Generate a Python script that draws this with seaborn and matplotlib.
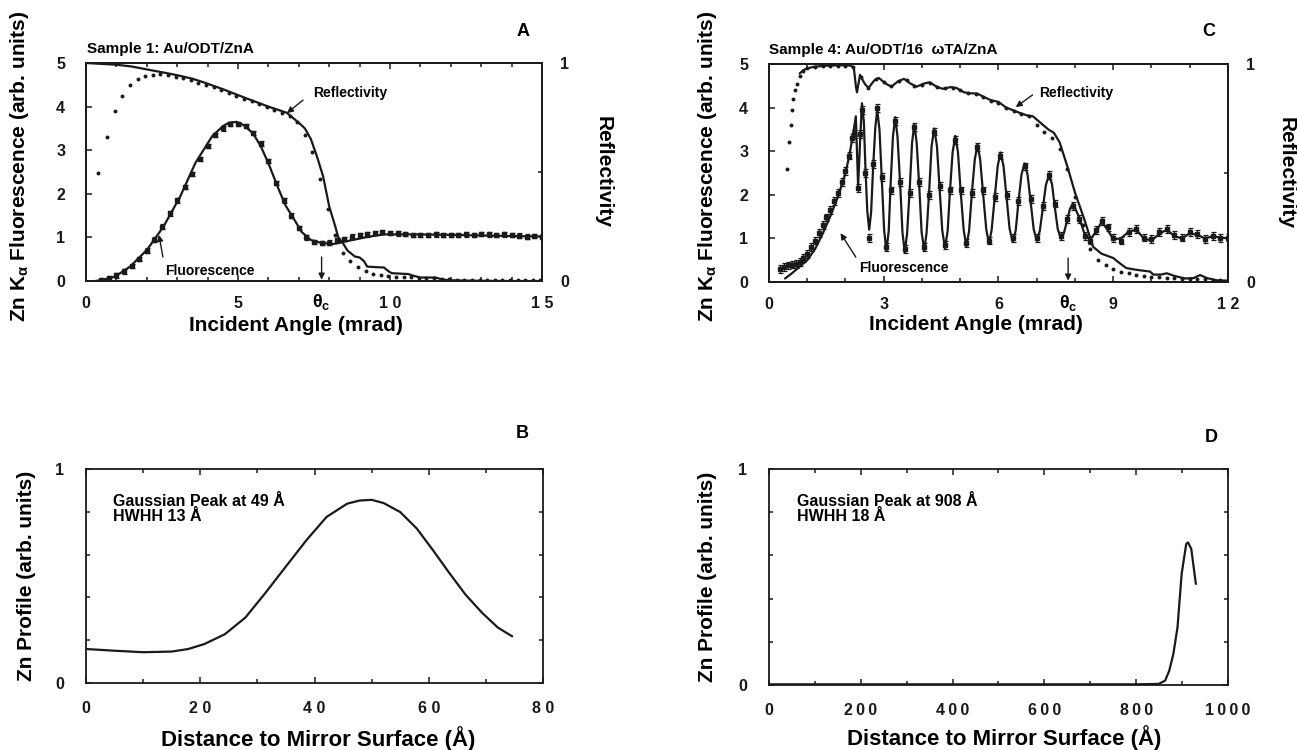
import matplotlib
matplotlib.use("Agg")
import matplotlib.pyplot as plt
from matplotlib.transforms import blended_transform_factory
import seaborn as sns

# ---------------- data ----------------

# Panel A  (sample 1), angle in mrad
a_refl_fit_x = [0, 0.5, 1.0, 1.5, 2.1, 2.6, 3.0, 3.5, 3.9, 4.5, 5.2, 6.0, 6.6, 7.0, 7.2, 7.4, 7.6, 7.8,
                8.0, 8.2, 8.3, 8.45, 8.6, 8.85, 9.0, 9.15, 9.25, 9.5, 9.8, 9.95, 10.05, 10.6, 10.75,
                11.0, 11.5, 11.7, 11.9, 12.5, 13.0, 14.0, 15.0]
a_refl_fit_y = [1.0, 0.996, 0.992, 0.984, 0.968, 0.955, 0.944, 0.928, 0.91, 0.88, 0.842, 0.8, 0.772,
                0.726, 0.70, 0.65, 0.57, 0.48, 0.342, 0.25, 0.2, 0.174, 0.14, 0.112, 0.108, 0.09,
                0.066, 0.064, 0.062, 0.045, 0.036, 0.032, 0.025, 0.016, 0.016, 0.008, 0.004, 0.002,
                0.001, 0.0, 0.0]

a_refl_dat_x = [0.4, 0.7, 0.95, 1.2, 1.45, 1.7, 1.95, 2.2, 2.45, 2.7, 2.95, 3.2, 3.45, 3.7, 3.95,
                4.2, 4.45, 4.7, 4.95, 5.2, 5.45, 5.7, 5.95, 6.2, 6.45, 6.7, 6.95, 7.2, 7.45, 7.7,
                7.95, 8.2, 8.45, 8.7, 8.95, 9.2, 9.45, 9.7, 9.95, 10.2, 10.45, 10.7, 10.95, 11.2,
                11.45, 11.7, 11.95, 12.2, 12.45, 12.7, 12.95, 13.2, 13.45, 13.7, 13.95, 14.2,
                14.45, 14.7, 14.95]
a_refl_dat_y = [0.494, 0.66, 0.778, 0.85, 0.898, 0.926, 0.94, 0.946, 0.948, 0.944, 0.938, 0.93,
                0.92, 0.91, 0.90, 0.888, 0.876, 0.862, 0.85, 0.836, 0.824, 0.812, 0.796, 0.784,
                0.77, 0.756, 0.73, 0.67, 0.59, 0.47, 0.33, 0.21, 0.13, 0.09, 0.066, 0.044, 0.032,
                0.026, 0.022, 0.02, 0.019, 0.018, 0.016, 0.014, 0.012, 0.010, 0.008, 0.006, 0.005,
                0.005, 0.004, 0.004, 0.004, 0.003, 0.003, 0.003, 0.003, 0.003, 0.003]

a_fluo_fit_x = [0.3, 0.5, 0.95, 1.45, 2.0, 2.55, 3.1, 3.6, 4.15, 4.5, 4.7, 4.95, 5.2, 5.5, 5.75,
                6.0, 6.3, 6.55, 6.85, 7.1, 7.4, 7.75, 8.15, 8.55, 8.9, 9.25, 9.8, 10.6, 11.9,
                13.3, 15.0]
a_fluo_fit_y = [0.0, 0.02, 0.1, 0.33, 0.71, 1.25, 1.94, 2.71, 3.32, 3.55, 3.63, 3.65, 3.57, 3.38,
                3.09, 2.7, 2.17, 1.75, 1.41, 1.12, 0.94, 0.87, 0.85, 0.91, 0.96, 1.01, 1.07, 1.07,
                1.06, 1.04, 1.02]

a_fluo_dat_x = [0.5, 0.75, 1.0, 1.25, 1.5, 1.75, 2.0, 2.25, 2.5, 2.75, 3.0, 3.25, 3.5, 3.75, 4.0,
                4.25, 4.5, 4.75, 5.0, 5.25, 5.5, 5.75, 6.0, 6.25, 6.5, 6.75, 7.0, 7.25, 7.5, 7.75,
                8.0, 8.25, 8.5, 8.75, 9.0, 9.25, 9.5, 9.75, 10.0, 10.25, 10.5, 10.75, 11.0, 11.25,
                11.5, 11.75, 12.0, 12.25, 12.5, 12.75, 13.0, 13.25, 13.5, 13.75, 14.0, 14.25,
                14.5, 14.75, 15.0]
a_fluo_dat_y = [0.03, 0.07, 0.13, 0.22, 0.35, 0.5, 0.7, 0.95, 1.25, 1.55, 1.85, 2.15, 2.45, 2.8,
                3.1, 3.35, 3.5, 3.6, 3.6, 3.55, 3.4, 3.15, 2.75, 2.25, 1.85, 1.5, 1.22, 1.0, 0.9,
                0.87, 0.88, 0.93, 0.97, 1.02, 1.05, 1.07, 1.1, 1.12, 1.1, 1.09, 1.08, 1.06, 1.05,
                1.06, 1.07, 1.06, 1.05, 1.06, 1.07, 1.06, 1.08, 1.07, 1.05, 1.07, 1.06, 1.04,
                1.02, 1.03, 1.02]

# Panel C  (sample 4)
c_refl_fit_x = [0.8, 0.9, 1.0, 1.2, 1.5, 1.8, 2.0, 2.15, 2.22, 2.27, 2.3, 2.38, 2.5, 2.6, 2.75,
                2.87, 3.05, 3.2, 3.37, 3.53, 3.7, 3.86, 4.05, 4.2, 4.4, 4.55, 4.75, 4.9, 5.1, 5.25,
                5.45, 5.6, 5.8, 6.0, 6.2, 6.35, 6.55, 6.75, 6.9, 7.1, 7.3, 7.45, 7.6, 7.8, 8.0,
                8.25, 8.47, 8.69, 9.0, 9.17, 9.34, 9.6, 9.96, 10.05, 10.25, 10.4, 10.6, 10.88,
                11.1, 11.27, 11.45, 11.7, 12.0]
c_refl_fit_y = [0.956, 0.972, 0.98, 0.988, 0.992, 0.994, 0.994, 0.992, 0.98, 0.9, 0.87, 0.95,
                0.91, 0.89, 0.924, 0.936, 0.91, 0.896, 0.92, 0.932, 0.91, 0.896, 0.91, 0.916,
                0.894, 0.886, 0.894, 0.89, 0.87, 0.866, 0.864, 0.85, 0.834, 0.826, 0.8, 0.79,
                0.776, 0.764, 0.76, 0.73, 0.70, 0.684, 0.64, 0.53, 0.41, 0.284, 0.162, 0.13,
                0.11, 0.086, 0.064, 0.056, 0.048, 0.034, 0.034, 0.04, 0.028, 0.016, 0.018,
                0.032, 0.018, 0.008, 0.006]

c_refl_dat_x = [0.48, 0.53, 0.57, 0.6, 0.64, 0.68, 0.73, 0.8, 0.9, 1.0, 1.2, 1.4, 1.6, 1.8, 2.0,
                2.2, 2.4, 2.6, 2.8, 3.0, 3.2, 3.4, 3.6, 3.8, 4.0, 4.2, 4.4, 4.6, 4.8, 5.0, 5.2,
                5.4, 5.6, 5.8, 6.0, 6.2, 6.4, 6.6, 6.8, 7.0, 7.2, 7.4, 7.6, 7.8, 8.0, 8.2, 8.4,
                8.6, 8.8, 9.0, 9.2, 9.4, 9.6, 9.8, 10.0, 10.2, 10.4, 10.6, 10.8, 11.0, 11.2, 11.4,
                11.6, 11.8, 12.0]
c_refl_dat_y = [0.52, 0.64, 0.72, 0.79, 0.84, 0.88, 0.91, 0.944, 0.97, 0.98, 0.986, 0.99, 0.992,
                0.992, 0.992, 0.986, 0.94, 0.89, 0.93, 0.916, 0.90, 0.924, 0.926, 0.90, 0.904,
                0.912, 0.894, 0.888, 0.892, 0.88, 0.866, 0.862, 0.848, 0.832, 0.82, 0.80, 0.786,
                0.772, 0.76, 0.72, 0.69, 0.66, 0.61, 0.52, 0.39, 0.26, 0.15, 0.1, 0.076, 0.06,
                0.048, 0.04, 0.034, 0.028, 0.024, 0.022, 0.02, 0.018, 0.016, 0.014, 0.012, 0.012,
                0.01, 0.01, 0.01]

c_fluo_fit_x = [0.42, 0.6, 0.8, 1.0, 1.2, 1.4, 1.6, 1.8, 2.0, 2.1, 2.2, 2.27, 2.33, 2.38, 2.43,
                2.48, 2.52, 2.57, 2.62, 2.67, 2.72, 2.78, 2.83,
                2.89, 2.95, 3.01, 3.07, 3.13, 3.18, 3.24, 3.3,
                3.36, 3.43, 3.49, 3.55, 3.61, 3.68, 3.74, 3.8,
                3.86, 3.93, 3.99, 4.06, 4.12, 4.19, 4.25, 4.32,
                4.39, 4.46, 4.53, 4.6, 4.67, 4.73, 4.8, 4.87,
                4.94, 5.01, 5.09, 5.16, 5.23, 5.3, 5.38, 5.45,
                5.52, 5.6, 5.68, 5.75, 5.82, 5.9, 5.98, 6.05,
                6.13, 6.21, 6.29, 6.37, 6.45, 6.52, 6.6, 6.68,
                6.76, 6.84, 6.92, 7.0, 7.08, 7.16, 7.24, 7.32,
                7.4, 7.47, 7.55, 7.63, 7.71, 7.79, 7.87, 7.95,
                8.1, 8.25, 8.4, 8.55, 8.7, 8.85, 9.0, 9.2, 9.4, 9.6, 9.8, 10.0, 10.2, 10.4, 10.6,
                10.8, 11.0, 11.2, 11.4, 11.6, 11.8, 12.0]
c_fluo_fit_y = [0.08, 0.2, 0.35, 0.5, 0.75, 1.1, 1.5, 1.95, 2.5, 2.9, 3.4, 3.8, 2.2, 3.2, 4.1,
                3.68, 2.65, 1.62, 1.2, 1.6, 2.58, 3.55, 3.95,
                3.48, 2.34, 1.19, 0.72, 1.17, 2.25, 3.33, 3.78,
                3.33, 2.23, 1.13, 0.68, 1.11, 2.15, 3.19, 3.62,
                3.2, 2.17, 1.14, 0.72, 1.13, 2.12, 3.11, 3.52,
                3.12, 2.15, 1.18, 0.78, 1.16, 2.07, 2.97, 3.35,
                2.98, 2.09, 1.19, 0.82, 1.16, 1.99, 2.81, 3.15,
                2.82, 2.0, 1.21, 0.88, 1.19, 1.93, 2.66, 2.97,
                2.67, 1.95, 1.22, 0.92, 1.18, 1.82, 2.46, 2.72,
                2.46, 1.84, 1.21, 0.95, 1.17, 1.7, 2.23, 2.45,
                2.24, 1.73, 1.21, 1.0, 1.12, 1.4, 1.68, 1.8,
                1.5, 1.1, 0.98, 1.15, 1.38, 1.2, 0.98, 1.0, 1.15, 1.2, 1.0, 0.95, 1.1, 1.2, 1.05,
                1.0, 1.12, 1.08, 1.0, 1.05, 1.02, 1.0]

c_fluo_dat_x = [0.3, 0.4, 0.5, 0.6, 0.7, 0.8, 0.9, 1.0, 1.1, 1.2, 1.3, 1.4, 1.5, 1.6, 1.7, 1.8,
                1.9, 2.0, 2.1, 2.17, 2.23,
                2.33, 2.38, 2.43, 2.52, 2.62, 2.72, 2.83, 2.95, 3.07, 3.18, 3.3, 3.43, 3.55, 3.68,
                3.8, 3.93, 4.06, 4.19, 4.32, 4.46, 4.6, 4.73, 4.87, 5.01, 5.16, 5.3, 5.45, 5.6,
                5.75, 5.9, 6.05, 6.21, 6.37, 6.52, 6.68, 6.84, 7.0, 7.16, 7.32, 7.47, 7.63, 7.79,
                7.95, 8.1, 8.25, 8.4, 8.55, 8.7, 8.85, 9.0, 9.2, 9.4, 9.6, 9.8, 10.0, 10.2, 10.4,
                10.6, 10.8, 11.0, 11.2, 11.4, 11.6, 11.8, 12.0]
c_fluo_dat_y = [0.3, 0.34, 0.38, 0.4, 0.42, 0.45, 0.55, 0.65, 0.8, 0.95, 1.12, 1.3, 1.48, 1.65,
                1.85, 2.05, 2.3, 2.55, 2.9, 3.3, 3.4,
                2.15, 3.4, 3.95, 2.5, 1.0, 2.7, 4.0, 2.4, 0.8, 2.1, 3.7, 2.3, 0.75, 2.05, 3.55,
                2.3, 0.8, 2.0, 3.45, 2.2, 0.85, 2.1, 3.25, 2.1, 0.9, 2.05, 3.1, 2.1, 0.95, 1.95,
                2.9, 2.0, 1.0, 1.85, 2.65, 1.9, 1.0, 1.75, 2.45, 1.8, 1.05, 1.45, 1.75, 1.45, 1.05,
                0.95, 1.2, 1.4, 1.25, 1.0, 0.95, 1.15, 1.22, 1.02, 0.98, 1.15, 1.22, 1.08, 1.02,
                1.15, 1.1, 0.98, 1.05, 1.0, 1.02]

# Panels B and D: Zn profile vs distance (Angstrom)
b_dist = [0, 5, 10, 15, 17.9, 20.7, 24.3, 27.9, 31.4, 35, 38.6, 42.1, 45.7, 47.9, 50, 52.1, 55,
          57.9, 60.7, 63.6, 66.4, 69.3, 72.1, 74.6]
b_prof = [0.159, 0.151, 0.144, 0.147, 0.159, 0.182, 0.228, 0.306, 0.421, 0.545, 0.668, 0.776,
          0.838, 0.853, 0.856, 0.841, 0.799, 0.722, 0.622, 0.514, 0.414, 0.329, 0.259, 0.218]

d_dist = [0, 100, 200, 300, 400, 500, 600, 700, 800, 849, 863, 872, 881, 890, 899, 909, 913,
          920, 930]
d_prof = [0.003, 0.003, 0.003, 0.003, 0.003, 0.003, 0.003, 0.003, 0.003, 0.005, 0.02, 0.066,
          0.144, 0.267, 0.514, 0.653, 0.66, 0.63, 0.468]

theta_c_a = 7.75
theta_c_c = 7.82

# ---------------- style ----------------
sns.set_theme(style="ticks")
plt.rcParams['font.family'] = ['Liberation Sans', 'DejaVu Sans']
plt.rcParams['font.weight'] = 'bold'
plt.rcParams['axes.labelweight'] = 'bold'
for key in ['text.color', 'axes.labelcolor', 'xtick.color', 'ytick.color', 'axes.edgecolor']:
    plt.rcParams[key] = 'black'
plt.rcParams['mathtext.fontset'] = 'custom'
plt.rcParams['mathtext.rm'] = 'Liberation Sans:bold'
plt.rcParams['mathtext.it'] = 'Liberation Sans:bold'
plt.rcParams['mathtext.bf'] = 'Liberation Sans:bold'
plt.rcParams['mathtext.default'] = 'rm'

fig = plt.figure(figsize=(12.97, 7.5), dpi=100)
axA = fig.add_axes([0.0663, 0.6253, 0.3516, 0.2907])
axC = fig.add_axes([0.5929, 0.6240, 0.3539, 0.2907])
axB = fig.add_axes([0.0663, 0.0893, 0.3524, 0.2853])
axD = fig.add_axes([0.5929, 0.0867, 0.3539, 0.2880])

LW = 1.6
arrow = dict(arrowstyle='-|>', color='k', lw=1.0, mutation_scale=9, shrinkA=0, shrinkB=0)


def frame(ax):
    for s in ax.spines.values():
        s.set_linewidth(1.3)
        s.set_color('k')
    ax.tick_params(which='both', direction='in', colors='k', width=1.1, labelsize=11.5)
    ax.tick_params(which='major', length=4)
    ax.tick_params(which='minor', length=3)


def top_panel(ax, fit_r_x, fit_r_y, dat_r_x, dat_r_y, fit_f_x, fit_f_y, dat_f_x, dat_f_y,
              xmax, xticks, xlabels, yerr, msize):
    ax.set_xlim(0, xmax)
    ax.set_ylim(0, 5)
    ax2 = ax.twinx()
    ax2.set_ylim(0, 1)
    sns.lineplot(x=fit_f_x, y=fit_f_y, ax=ax, color='k', linewidth=LW, estimator=None, sort=False)
    ax.errorbar(dat_f_x, dat_f_y, yerr=yerr, fmt='s', ms=msize, color='k', mec='k',
                elinewidth=0.9, capsize=1.8, capthick=0.9)
    sns.lineplot(x=fit_r_x, y=fit_r_y, ax=ax2, color='k', linewidth=LW, estimator=None, sort=False)
    sns.scatterplot(x=dat_r_x, y=dat_r_y, ax=ax2, color='k', s=8, linewidth=0)
    ax.set_xticks(xticks)
    ax.set_xticklabels(xlabels)
    ax.set_xticks(range(0, xmax + 1), minor=True)
    ax.set_yticks([0, 1, 2, 3, 4, 5])
    ax2.set_yticks([0, 1])
    ax2.set_yticklabels(['0', '1'])
    ax2.set_yticks([0.5], minor=True)
    frame(ax)
    frame(ax2)
    ax.tick_params(axis='x', which='both', top=True, pad=11)
    ax.tick_params(axis='y', which='both', right=False, pad=15)
    ax2.tick_params(axis='y', which='both', pad=13)
    ax.set_ylabel(r'Zn K$_\alpha$ Fluorescence (arb. units)', fontsize=15, va='center')
    ax.set_xlabel('Incident Angle (mrad)', fontsize=15, va='center')
    ax2.set_ylabel('Reflectivity', fontsize=15, rotation=-90, va='center')
    return ax2


# ---------------- panel A ----------------
axA2 = top_panel(axA, a_refl_fit_x, a_refl_fit_y, a_refl_dat_x, a_refl_dat_y,
                 a_fluo_fit_x, a_fluo_fit_y, a_fluo_dat_x, a_fluo_dat_y,
                 15, [0, 5, 10, 15], ['0', '5', '1 0', '1 5'], 0.05, 2.4)
axA.yaxis.set_label_coords(-0.145, 0.528)
axA.xaxis.set_label_coords(0.46, -0.202)
axA2.yaxis.set_label_coords(1.134, 0.5)
axA.text(0.003, 1.064, 'Sample 1: Au/ODT/ZnA', transform=axA.transAxes, fontsize=11,
         va='center', ha='left')
axA.text(7.48, 4.31, 'Reflectivity', fontsize=10, va='center', ha='left')
axA.annotate('', xy=(6.61, 3.85), xytext=(7.14, 4.15), arrowprops=arrow)
axA.text(2.6, 0.23, 'Fluorescence', fontsize=10, va='center', ha='left')
axA.annotate('', xy=(2.40, 1.06), xytext=(2.53, 0.55), arrowprops=arrow)
axA.annotate('', xy=(theta_c_a, 0.03), xytext=(theta_c_a, 0.55), arrowprops=arrow)
trA = blended_transform_factory(axA.transData, axA.transAxes)
axA.text(theta_c_a, -0.095, r'θ$_c$', transform=trA, fontsize=13, ha='center', va='center')

# ---------------- panel C ----------------
axC2 = top_panel(axC, c_refl_fit_x, c_refl_fit_y, c_refl_dat_x, c_refl_dat_y,
                 c_fluo_fit_x, c_fluo_fit_y, c_fluo_dat_x, c_fluo_dat_y,
                 12, [0, 3, 6, 9, 12], ['0', '3', '6', '9', '1 2'], 0.09, 2.2)
axC.yaxis.set_label_coords(-0.135, 0.528)
axC.xaxis.set_label_coords(0.45, -0.197)
axC2.yaxis.set_label_coords(1.126, 0.5)
axC.text(0.0, 1.064, 'Sample 4: Au/ODT/16  ωTA/ZnA', transform=axC.transAxes, fontsize=11,
         va='center', ha='left')
axC.text(7.05, 4.34, 'Reflectivity', fontsize=10, va='center', ha='left')
axC.annotate('', xy=(6.45, 4.01), xytext=(6.89, 4.29), arrowprops=arrow)
axC.text(2.35, 0.32, 'Fluorescence', fontsize=10, va='center', ha='left')
axC.annotate('', xy=(1.87, 1.12), xytext=(2.27, 0.57), arrowprops=arrow)
axC.annotate('', xy=(theta_c_c, 0.03), xytext=(theta_c_c, 0.55), arrowprops=arrow)
trC = blended_transform_factory(axC.transData, axC.transAxes)
axC.text(theta_c_c, -0.095, r'θ$_c$', transform=trC, fontsize=13, ha='center', va='center')


# ---------------- panels B and D ----------------
def bottom_panel(ax, x, y, xmax, xticks, xlabels, minor_step, note):
    sns.lineplot(x=x, y=y, ax=ax, color='k', linewidth=LW, estimator=None, sort=False)
    ax.set_xlim(0, xmax)
    ax.set_ylim(0, 1)
    ax.set_xticks(xticks)
    ax.set_xticklabels(xlabels)
    ax.set_xticks(range(0, xmax + 1, minor_step), minor=True)
    ax.set_yticks([0, 1])
    ax.set_yticks([0.2, 0.4, 0.6, 0.8], minor=True)
    frame(ax)
    ax.tick_params(which='both', top=True, right=True)
    ax.tick_params(axis='x', pad=13)
    ax.tick_params(axis='y', pad=16)
    ax.set_ylabel('Zn Profile (arb. units)', fontsize=15, va='center')
    ax.set_xlabel('Distance to Mirror Surface (Å)', fontsize=16, va='center')
    ax.text(0.06, 0.815, note, transform=ax.transAxes, fontsize=11.5, va='center', ha='left',
            linespacing=1.0)


bottom_panel(axB, b_dist, b_prof, 80, [0, 20, 40, 60, 80], ['0', '2 0', '4 0', '6 0', '8 0'], 10,
             'Gaussian Peak at 49 Å\nHWHH 13 Å')
axB.yaxis.set_label_coords(-0.131, 0.5)
axB.xaxis.set_label_coords(0.508, -0.257)

bottom_panel(axD, d_dist, d_prof, 1000, [0, 200, 400, 600, 800, 1000],
             ['0', '2\u20090\u20090', '4\u20090\u20090', '6\u20090\u20090', '8\u20090\u20090',
              '1\u20090\u20090\u20090'], 100,
             'Gaussian Peak at 908 Å\nHWHH 18 Å')
axD.yaxis.set_label_coords(-0.135, 0.5)
axD.xaxis.set_label_coords(0.512, -0.245)

# panel letters
for letter, px, py in [('A', 523, 32), ('C', 1209, 32), ('B', 522, 433), ('D', 1211, 437)]:
    fig.text(px / 1297, 1 - py / 750, letter, fontsize=13, ha='center', va='center')

fig.savefig('out.png', dpi=100)
